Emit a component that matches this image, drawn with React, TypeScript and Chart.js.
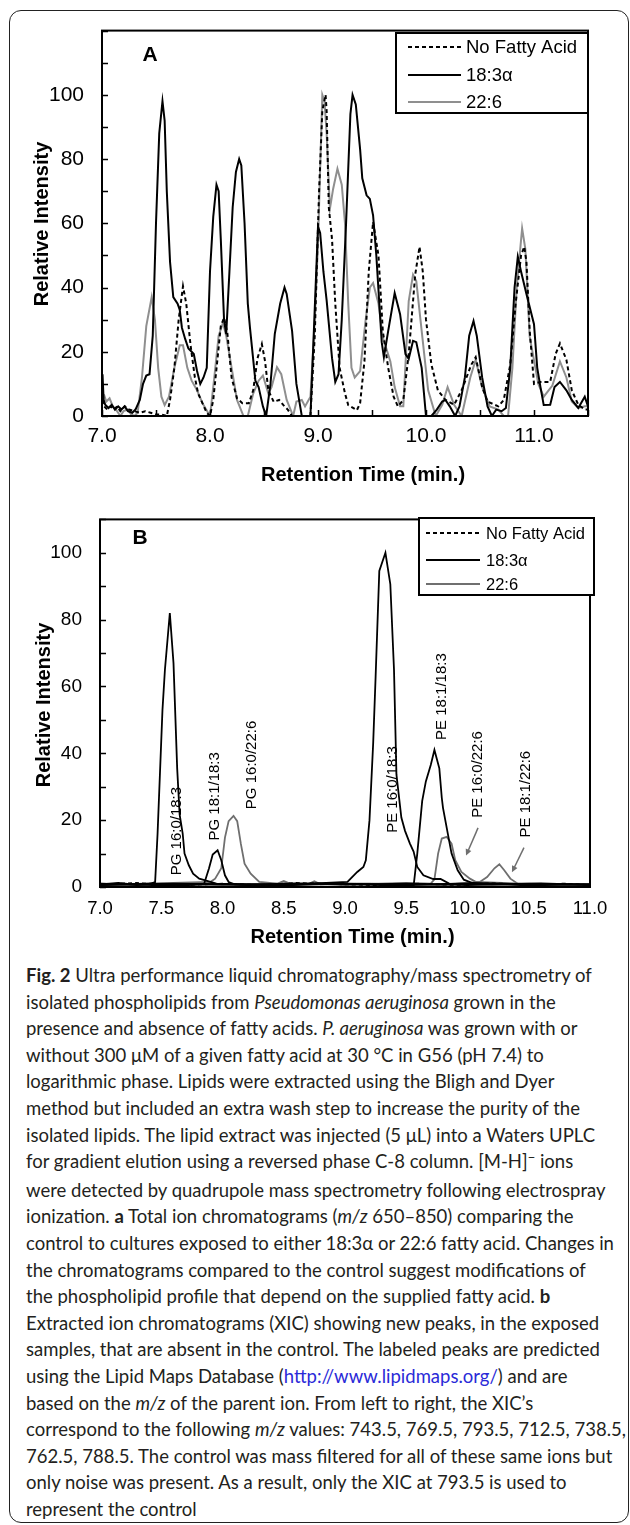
import React, { useEffect, useRef } from "react";
import { Chart, registerables } from "chart.js";
Chart.register(...registerables);

const FONT = '"Liberation Sans", Arial, Helvetica, sans-serif';

// ---------------- Panel A (total ion chromatograms) ----------------
const aXLabels = [7.0, 8.0, 9.0, 10.0, 11.0];
const aYLabels = [0, 20, 40, 60, 80, 100];
const aXMarks = [7.0, 7.5, 8.0, 8.5, 9.0, 9.5, 10.0, 10.5, 11.0, 11.5];
const aYMarks = [0, 10, 20, 30, 40, 50, 60, 70, 80, 90, 100, 110, 120];

const aTime183 = [7.00,7.005,7.015,7.03,7.06,7.09,7.12,7.15,7.18,7.21,7.24,7.28,7.31,7.35,7.38,7.41,7.44,7.47,7.50,7.53,7.56,7.58,7.60,7.63,7.66,7.70,7.72,7.74,7.77,7.80,7.83,7.85,7.88,7.91,7.94,7.97,8.00,8.03,8.06,8.08,8.10,8.13,8.15,8.18,8.21,8.24,8.27,8.29,8.32,8.35,8.37,8.42,8.45,8.49,8.52,8.56,8.60,8.65,8.69,8.71,8.76,8.80,8.85,8.93,8.96,9.00,9.02,9.05,9.08,9.13,9.16,9.19,9.22,9.26,9.30,9.32,9.35,9.39,9.41,9.45,9.48,9.51,9.54,9.59,9.61,9.65,9.71,9.76,9.81,9.84,9.88,9.91,9.96,10.00,10.05,10.10,10.15,10.18,10.22,10.27,10.31,10.36,10.40,10.44,10.47,10.52,10.57,10.61,10.65,10.70,10.74,10.78,10.82,10.85,10.88,10.93,11.00,11.03,11.06,11.09,11.15,11.19,11.24,11.30,11.35,11.41,11.47,11.50];
const aInt183 = [4,13,5,3.5,2.5,3.5,2,3,2,3,1.5,1,2,5,10,12.6,13,25,60,88,98,92,70,48,37,35,33,27.5,24,21,20,19.3,14,10,12,15,45,62,72,70,55,30,25.5,45,65,76,80,78,60,35,27.5,11,9,3,0,10,25.6,35,40,38,26.5,10,0,0,25,59,57,45,36,18,10.6,13,30,60,94,100,97,83,74,68.7,67.6,62.5,50,23,18.3,26.5,38.3,31.7,19.3,17.8,23.4,23,15,0,0,2,4.5,5,3,0,3,12,25,29.6,25,12,3,0,2,1.5,2.5,15,40,49.6,45,38,28.6,15,9,3.4,3.5,9,10.6,8,5,2.5,6,3];

const aTimeNoFA = [7.00,7.02,7.05,7.08,7.11,7.14,7.17,7.21,7.25,7.30,7.35,7.40,7.45,7.50,7.55,7.60,7.63,7.67,7.71,7.75,7.78,7.82,7.86,7.89,7.93,7.97,8.00,8.03,8.07,8.10,8.13,8.16,8.20,8.25,8.30,8.36,8.40,8.44,8.48,8.51,8.54,8.59,8.64,8.68,8.72,8.76,8.93,8.97,9.01,9.04,9.07,9.08,9.10,9.13,9.16,9.20,9.25,9.28,9.36,9.39,9.43,9.47,9.51,9.56,9.60,9.65,9.70,9.74,9.79,9.84,9.90,9.94,9.97,10.00,10.05,10.11,10.18,10.26,10.33,10.42,10.46,10.52,10.57,10.67,10.72,10.78,10.83,10.88,10.91,10.93,10.96,11.00,11.06,11.15,11.20,11.24,11.30,11.35,11.41,11.47,11.50];
const aIntNoFA = [5,3,2,3,2,3,1.5,3,2,1.5,1,1.5,1,0.5,0.5,0,5,15,30,40.4,35,22,12,7,4,1,0,5,18,28,30.6,26,12,5.5,4,4,8,18,22.4,17,8,4.4,5,3.4,2,0,0,25,70,95,100,95,65,55,35,15,7,3.4,1.8,4,17,45,60.4,50,26.5,15,6,3,5,19.3,44,52.7,45,30,16,8,5,3.5,8,16,18.3,9,4.5,3,5,16,35,50,52.7,48,26.6,10,10.6,10.6,19.3,22.6,17.5,8,3.5,2,2];

const aTime226 = [7.00,7.02,7.04,7.07,7.10,7.13,7.17,7.20,7.24,7.27,7.30,7.33,7.37,7.41,7.46,7.49,7.52,7.55,7.58,7.62,7.67,7.72,7.75,7.79,7.83,7.88,7.93,8.00,8.04,8.08,8.12,8.15,8.19,8.25,8.31,8.35,8.40,8.45,8.49,8.54,8.57,8.62,8.66,8.71,8.77,8.80,8.85,8.88,8.93,8.97,9.00,9.04,9.06,9.08,9.11,9.14,9.18,9.22,9.25,9.28,9.31,9.34,9.39,9.44,9.48,9.51,9.56,9.60,9.67,9.71,9.76,9.79,9.84,9.88,9.91,9.96,10.02,10.09,10.15,10.20,10.26,10.33,10.41,10.46,10.52,10.59,10.67,10.72,10.76,10.80,10.84,10.89,10.92,10.96,11.04,11.09,11.17,11.24,11.30,11.35,11.41,11.47,11.50];
const aInt226 = [7,6.5,4.5,5.5,3,2,0,1.5,2,0.5,0,1,12,28,37,30,15,6,3.4,6,15,22,22,15,11,8,4,0,12,25,29,25,17,5,0,0,7,11,12.6,7,9,15.2,13,5,0,4.5,5,3,6,29.6,54,100,98,88,64.5,70.7,77,72,60,35,15,12,14,29.6,40,41.4,35,24.5,17,9,3,3,35.8,44,42,26.5,8,0,3.5,9,3.5,0,12,17.5,9,3,2,0,0,15,40,58.4,52,24.7,10,6,9.5,17,12,4.5,2.5,3,3];

// ---------------- Panel B (extracted ion chromatograms) ----------------
const bXLabels = [7.0, 7.5, 8.0, 8.5, 9.0, 9.5, 10.0, 10.5, 11.0];
const bYLabels = [0, 20, 40, 60, 80, 100];
const bYMarks = [0, 10, 20, 30, 40, 50, 60, 70, 80, 90, 100, 110];

const bTimePG160183 = [7.00,7.15,7.30,7.40,7.45,7.47,7.51,7.53,7.57,7.60,7.63,7.65,7.675,7.69,7.725,7.76,7.81,7.86,7.95,8.20,8.60,9.00,9.50,10.00,10.50,11.00];
const bIntPG160183 = [0.8,1.2,0.6,0.9,1.5,16,53,65,82,67,35.5,21.7,16,10,6.5,4,2.5,2,1,0.6,1.1,0.7,1.0,0.6,1.0,0.7];
const bTimePG181183 = [7.00,7.40,7.70,7.85,7.89,7.92,7.96,7.99,8.02,8.05,8.10,8.50,9.00,9.50,10.00,10.50,11.00];
const bIntPG181183 = [0.6,1.0,0.5,1.0,5.6,9.7,11,8,3.5,1.5,0.8,0.5,1.0,0.6,1.1,0.5,0.8];
const bTimePE160183 = [7.00,7.50,8.00,8.50,9.02,9.10,9.15,9.17,9.20,9.23,9.25,9.28,9.33,9.37,9.40,9.42,9.46,9.49,9.53,9.56,9.59,9.64,9.72,9.78,9.85,10.20,10.60,11.00];
const bIntPE160183 = [1.0,0.5,0.9,0.6,1.5,4.5,6,8,20,43,63,94.6,100,90.6,65,33.6,20.8,16.8,13,10.6,6,3.5,2.4,2.4,1,0.7,1.1,0.6];
const bTimePE181183 = [7.00,7.60,8.20,8.80,9.30,9.54,9.56,9.59,9.63,9.66,9.70,9.73,9.77,9.79,9.80,9.84,9.87,9.92,9.97,10.04,10.50,11.00];
const bIntPE181183 = [0.6,1.0,0.7,1.1,0.6,0.5,0.3,10,25.7,31.6,36.5,41,35.5,26.7,23.7,15.8,10,5,2.2,1.2,0.8,0.7];
const bTimePG160226 = [7.00,7.30,7.60,7.90,7.94,7.99,8.02,8.05,8.09,8.12,8.15,8.18,8.23,8.30,8.45,8.50,8.55,8.70,8.75,8.80,9.20,9.60,10.00,10.50,11.00];
const bIntPG160226 = [1.0,0.6,1.2,1.5,2.5,5.6,14.8,19.7,21.3,19.7,12.9,7,4,1.5,1.0,1.8,1.0,0.9,1.7,0.8,1.0,0.6,1.1,0.7,0.9];
const bTimePE160226 = [7.00,7.50,8.00,8.50,9.00,9.50,9.70,9.73,9.76,9.79,9.83,9.87,9.90,9.95,10.02,10.07,10.50,11.00];
const bIntPE160226 = [0.8,1.1,0.6,1.0,0.7,1.2,1.0,2.3,10,14.5,15,13,8,4.5,2.5,1.5,0.9,0.8];
const bTimePE181226 = [7.00,7.70,8.40,9.10,9.80,10.10,10.16,10.22,10.26,10.30,10.35,10.41,10.70,11.00];
const bIntPE181226 = [0.8,1.1,0.7,1.0,0.6,1.5,3,5.6,6.8,5,2.5,1,0.8,0.8];
const bTimeNoFA = [7.00,7.30,7.60,8.00,8.30,8.60,9.00,9.30,9.60,9.90,10.20,10.50,10.80,11.00];
const bIntNoFA = [0.8,1.2,0.5,1.0,0.6,1.2,0.8,0.5,1.0,0.6,1.1,0.7,1.0,0.6];

// peak labels in panel B (time of label, intensity at the label's lower end)
const bLabelTexts = ["PG 16:0/18:3", "PG 18:1/18:3", "PG 16:0/22:6", "PE 16:0/18:3", "PE 18:1/18:3", "PE 16:0/22:6", "PE 18:1/22:6"];
const bLabelTimes = [7.629, 7.939, 8.241, 9.392, 9.79, 10.086, 10.478];
const bLabelBases = [3.5, 13.9, 23.3, 16.2, 44, 20.7, 14.8];
// arrows (from -> to) in data units
const bArrowT0 = [10.086, 10.461];
const bArrowV0 = [17.7, 11.8];
const bArrowT1 = [9.988, 10.363];
const bArrowV1 = [9.4, 4.4];

const LEGEND_LABELS = ["No Fatty Acid", "18:3\u03b1", "22:6"];

function pts(t: number[], v: number[]) {
  const n = Math.min(t.length, v.length);
  const out: { x: number; y: number }[] = [];
  for (let i = 0; i < n; i++) out.push({ x: t[i], y: v[i] });
  return out;
}

type LegendItem = { label: string; color: string; dash: number[]; width: number };
type PanelCfg = {
  letter: string; letterX: number; letterY: number; letterSize: number;
  yMarks: number[]; xMarks: number[]; tickLen: number;
  legend: { x: number; y: number; w: number; h: number; rowY: number[]; s0: number; s1: number; tx: number; size: number; items: LegendItem[] };
  xTitle: string; xTitleX: number; xTitleY: number;
  yTitle: string; yTitleX: number; yTitleY: number; titleSize: number;
  annotate?: boolean; grayColor: string;
};

function makePlugin(cfg: PanelCfg) {
  return {
    id: "panelDecor",
    afterDatasetsDraw(chart: any) {
      const ctx = chart.ctx as CanvasRenderingContext2D;
      const { left, right, top, bottom } = chart.chartArea;
      const xs = chart.scales.x;
      const ys = chart.scales.y;
      ctx.save();
      if (cfg.annotate) {
        ctx.fillStyle = "#000";
        ctx.font = `15px ${FONT}`;
        ctx.textAlign = "left";
        ctx.textBaseline = "middle";
        for (let i = 0; i < bLabelTexts.length; i++) {
          const px = xs.getPixelForValue(bLabelTimes[i]);
          const py = ys.getPixelForValue(bLabelBases[i]);
          ctx.save();
          ctx.translate(px, py);
          ctx.rotate(-Math.PI / 2);
          ctx.fillText(bLabelTexts[i], 0, 0);
          ctx.restore();
        }
        ctx.strokeStyle = cfg.grayColor;
        ctx.fillStyle = cfg.grayColor;
        ctx.lineWidth = 1.5;
        for (let i = 0; i < bArrowT0.length; i++) {
          const x0 = xs.getPixelForValue(bArrowT0[i]);
          const y0 = ys.getPixelForValue(bArrowV0[i]);
          const x1 = xs.getPixelForValue(bArrowT1[i]);
          const y1 = ys.getPixelForValue(bArrowV1[i]);
          const ang = Math.atan2(y1 - y0, x1 - x0);
          const hl = 7;
          ctx.beginPath();
          ctx.moveTo(x0, y0);
          ctx.lineTo(x1 - Math.cos(ang) * hl * 0.8, y1 - Math.sin(ang) * hl * 0.8);
          ctx.stroke();
          ctx.beginPath();
          ctx.moveTo(x1, y1);
          ctx.lineTo(x1 - hl * Math.cos(ang - 0.45), y1 - hl * Math.sin(ang - 0.45));
          ctx.lineTo(x1 - hl * Math.cos(ang + 0.45), y1 - hl * Math.sin(ang + 0.45));
          ctx.closePath();
          ctx.fill();
        }
      }
      // frame
      ctx.strokeStyle = "#000";
      ctx.lineWidth = 2;
      ctx.setLineDash([]);
      ctx.strokeRect(left, top, right - left, bottom - top);
      // inside tick marks
      ctx.lineWidth = 1.5;
      ctx.beginPath();
      for (const v of cfg.yMarks) {
        const p = Math.round(ys.getPixelForValue(v)) + 0.5;
        ctx.moveTo(left, p);
        ctx.lineTo(left + cfg.tickLen, p);
      }
      for (const v of cfg.xMarks) {
        const p = Math.round(xs.getPixelForValue(v)) + 0.5;
        ctx.moveTo(p, bottom);
        ctx.lineTo(p, bottom - cfg.tickLen);
      }
      ctx.stroke();
      // legend box
      const L = cfg.legend;
      ctx.fillStyle = "#fff";
      ctx.fillRect(L.x, L.y, L.w, L.h);
      ctx.strokeStyle = "#000";
      ctx.lineWidth = 2;
      ctx.strokeRect(L.x, L.y, L.w, L.h);
      ctx.font = `${L.size}px ${FONT}`;
      ctx.textAlign = "left";
      ctx.textBaseline = "middle";
      L.items.forEach((it, i) => {
        const y = L.rowY[i];
        ctx.strokeStyle = it.color;
        ctx.lineWidth = it.width;
        ctx.setLineDash(it.dash);
        ctx.beginPath();
        ctx.moveTo(L.s0, y);
        ctx.lineTo(L.s1, y);
        ctx.stroke();
        ctx.setLineDash([]);
        ctx.fillStyle = "#000";
        ctx.fillText(it.label, L.tx, y + 1);
      });
      // panel letter
      ctx.fillStyle = "#000";
      ctx.font = `bold ${cfg.letterSize}px ${FONT}`;
      ctx.textAlign = "center";
      ctx.textBaseline = "middle";
      ctx.fillText(cfg.letter, cfg.letterX, cfg.letterY);
      // axis titles
      ctx.font = `bold ${cfg.titleSize}px ${FONT}`;
      ctx.fillText(cfg.xTitle, cfg.xTitleX, cfg.xTitleY);
      ctx.save();
      ctx.translate(cfg.yTitleX, cfg.yTitleY);
      ctx.rotate(-Math.PI / 2);
      ctx.fillText(cfg.yTitle, 0, 0);
      ctx.restore();
      ctx.restore();
    },
  };
}

const lineDefaults = { showLine: true, pointRadius: 0, pointHoverRadius: 0, fill: false, tension: 0 };

function axisX(min: number, max: number, labels: number[], size: number, pad: number, h: number) {
  return {
    type: "linear", min, max,
    grid: { display: false, drawTicks: false }, border: { display: false },
    afterFit: (s: any) => { s.height = h; },
    afterBuildTicks: (s: any) => { s.ticks = labels.map((v) => ({ value: v })); },
    ticks: { padding: pad, color: "#000", autoSkip: false, maxRotation: 0, font: { family: FONT, size }, callback: (v: any) => Number(v).toFixed(1) },
  };
}
function axisY(max: number, labels: number[], size: number, pad: number, w: number) {
  return {
    type: "linear", min: 0, max,
    grid: { display: false, drawTicks: false }, border: { display: false },
    afterFit: (s: any) => { s.width = w; },
    afterBuildTicks: (s: any) => { s.ticks = labels.map((v) => ({ value: v })); },
    ticks: { padding: pad, color: "#000", autoSkip: false, font: { family: FONT, size }, callback: (v: any) => String(v) },
  };
}

const A_GRAY = "#8f8f8f";
const B_GRAY = "#6f6f6f";

function configA() {
  const cfg: PanelCfg = {
    letter: "A", letterX: 150, letterY: 55, letterSize: 21,
    yMarks: aYMarks, xMarks: aXMarks, tickLen: 6,
    legend: {
      x: 396, y: 33, w: 192, h: 80, rowY: [47, 75, 102], s0: 408, s1: 461, tx: 466, size: 18.5,
      items: [
        { label: LEGEND_LABELS[0], color: "#000", dash: [4, 3], width: 2 },
        { label: LEGEND_LABELS[1], color: "#000", dash: [], width: 2 },
        { label: LEGEND_LABELS[2], color: A_GRAY, dash: [], width: 2 },
      ],
    },
    xTitle: "Retention Time (min.)", xTitleX: 363, xTitleY: 475,
    yTitle: "Relative Intensity", yTitleX: 42, yTitleY: 224, titleSize: 20,
    grayColor: A_GRAY,
  };
  return {
    type: "scatter",
    data: {
      datasets: [
        { label: LEGEND_LABELS[1], data: pts(aTime183, aInt183), borderColor: "#000", borderWidth: 2, order: 0, ...lineDefaults },
        { label: LEGEND_LABELS[0], data: pts(aTimeNoFA, aIntNoFA), borderColor: "#000", borderWidth: 2, borderDash: [4, 3], order: 1, ...lineDefaults },
        { label: LEGEND_LABELS[2], data: pts(aTime226, aInt226), borderColor: A_GRAY, borderWidth: 2, order: 2, ...lineDefaults },
      ],
    },
    options: {
      responsive: false, animation: false, devicePixelRatio: 1,
      layout: { padding: { left: 0, right: 42, top: 27, bottom: 24 } },
      plugins: { legend: { display: false }, tooltip: { enabled: false } },
      scales: { x: axisX(7, 11.5, aXLabels, 21, 8, 50), y: axisY(120, aYLabels, 21, 18, 102) },
    },
    plugins: [makePlugin(cfg)],
  };
}

function configB() {
  const cfg: PanelCfg = {
    letter: "B", letterX: 140, letterY: 48, letterSize: 21,
    yMarks: bYMarks, xMarks: [], tickLen: 6,
    legend: {
      x: 419, y: 28, w: 175, h: 77, rowY: [43, 70, 94], s0: 426, s1: 480, tx: 486, size: 16.5,
      items: [
        { label: LEGEND_LABELS[0], color: "#000", dash: [4, 3], width: 2 },
        { label: LEGEND_LABELS[1], color: "#000", dash: [], width: 2 },
        { label: LEGEND_LABELS[2], color: B_GRAY, dash: [], width: 2 },
      ],
    },
    xTitle: "Retention Time (min.)", xTitleX: 352.5, xTitleY: 447,
    yTitle: "Relative Intensity", yTitleX: 44, yTitleY: 215, titleSize: 20,
    annotate: true, grayColor: B_GRAY,
  };
  const black = { borderColor: "#000", borderWidth: 1.8, order: 0, ...lineDefaults };
  const gray = { borderColor: B_GRAY, borderWidth: 1.8, order: 2, ...lineDefaults };
  return {
    type: "scatter",
    data: {
      datasets: [
        { label: LEGEND_LABELS[1], data: pts(bTimePG160183, bIntPG160183), ...black },
        { label: LEGEND_LABELS[1], data: pts(bTimePG181183, bIntPG181183), ...black },
        { label: LEGEND_LABELS[1], data: pts(bTimePE160183, bIntPE160183), ...black },
        { label: LEGEND_LABELS[1], data: pts(bTimePE181183, bIntPE181183), ...black },
        { label: LEGEND_LABELS[0], data: pts(bTimeNoFA, bIntNoFA), borderColor: "#000", borderWidth: 1.8, borderDash: [4, 3], order: 1, ...lineDefaults },
        { label: LEGEND_LABELS[2], data: pts(bTimePG160226, bIntPG160226), ...gray },
        { label: LEGEND_LABELS[2], data: pts(bTimePE160226, bIntPE160226), ...gray },
        { label: LEGEND_LABELS[2], data: pts(bTimePE181226, bIntPE181226), ...gray },
      ],
    },
    options: {
      responsive: false, animation: false, devicePixelRatio: 1,
      layout: { padding: { left: 0, right: 40, top: 24, bottom: 23 } },
      plugins: { legend: { display: false }, tooltip: { enabled: false } },
      scales: { x: axisX(7, 11, bXLabels, 18.5, 10.5, 50), y: axisY(110, bYLabels, 19, 18, 100) },
    },
    plugins: [makePlugin(cfg)],
  };
}

function ChartCanvas({ top, height, build }: { top: number; height: number; build: () => any }) {
  const ref = useRef<HTMLCanvasElement | null>(null);
  useEffect(() => {
    if (!ref.current) return;
    const chart = new Chart(ref.current, build());
    return () => chart.destroy();
  }, []);
  return (
    <canvas
      ref={ref}
      width={630}
      height={height}
      style={{ position: "absolute", left: 0, top, width: 630, height, display: "block" }}
    />
  );
}

const it = (s: string) => <i>{s}</i>;

const captionLines: React.ReactNode[] = [
  <><b>Fig. 2</b> Ultra performance liquid chromatography/mass spectrometry of</>,
  <>isolated phospholipids from {it("Pseudomonas aeruginosa")} grown in the</>,
  <>presence and absence of fatty acids. {it("P. aeruginosa")} was grown with or</>,
  <>without 300 μM of a given fatty acid at 30 °C in G56 (pH 7.4) to</>,
  <>logarithmic phase. Lipids were extracted using the Bligh and Dyer</>,
  <>method but included an extra wash step to increase the purity of the</>,
  <>isolated lipids. The lipid extract was injected (5 μL) into a Waters UPLC</>,
  <>for gradient elution using a reversed phase C-8 column. [M-H]<span style={{ position: "relative", top: "-0.45em", fontSize: "0.7em" }}>−</span> ions</>,
  <>were detected by quadrupole mass spectrometry following electrospray</>,
  <>ionization. <b>a</b> Total ion chromatograms ({it("m/z")} 650–850) comparing the</>,
  <>control to cultures exposed to either 18:3α or 22:6 fatty acid. Changes in</>,
  <>the chromatograms compared to the control suggest modifications of</>,
  <>the phospholipid profile that depend on the supplied fatty acid. <b>b</b></>,
  <>Extracted ion chromatograms (XIC) showing new peaks, in the exposed</>,
  <>samples, that are absent in the control. The labeled peaks are predicted</>,
  <>using the Lipid Maps Database (<span style={{ color: "#2a2ad8" }}>http://www.lipidmaps.org/</span>) and are</>,
  <>based on the {it("m/z")} of the parent ion. From left to right, the XIC’s</>,
  <>correspond to the following {it("m/z")} values: 743.5, 769.5, 793.5, 712.5, 738.5,</>,
  <>762.5, 788.5. The control was mass filtered for all of these same ions but</>,
  <>only noise was present. As a result, only the XIC at 793.5 is used to</>,
  <>represent the control</>,
];

export default function App() {
  return (
    <div style={{ position: "absolute", left: 0, top: 0, width: 630, height: 1525, overflow: "hidden", background: "#fff" }}>
      <div
        style={{
          position: "absolute", left: 9, top: 10, width: 620, height: 1513,
          border: "1.5px solid #222", borderRadius: 12, boxSizing: "border-box",
        }}
      />
      <ChartCanvas top={0} height={490} build={configA} />
      <ChartCanvas top={490} height={470} build={configB} />
      <div
        style={{
          position: "absolute", left: 26, top: 962,
          fontFamily: 'Lato, "Noto Sans", sans-serif', fontSize: 18.5, lineHeight: "26.6px", color: "#231f20",
        }}
      >
        {captionLines.map((ln, i) => (
          <div key={i} style={{ whiteSpace: "nowrap" }}>{ln}</div>
        ))}
      </div>
    </div>
  );
}
